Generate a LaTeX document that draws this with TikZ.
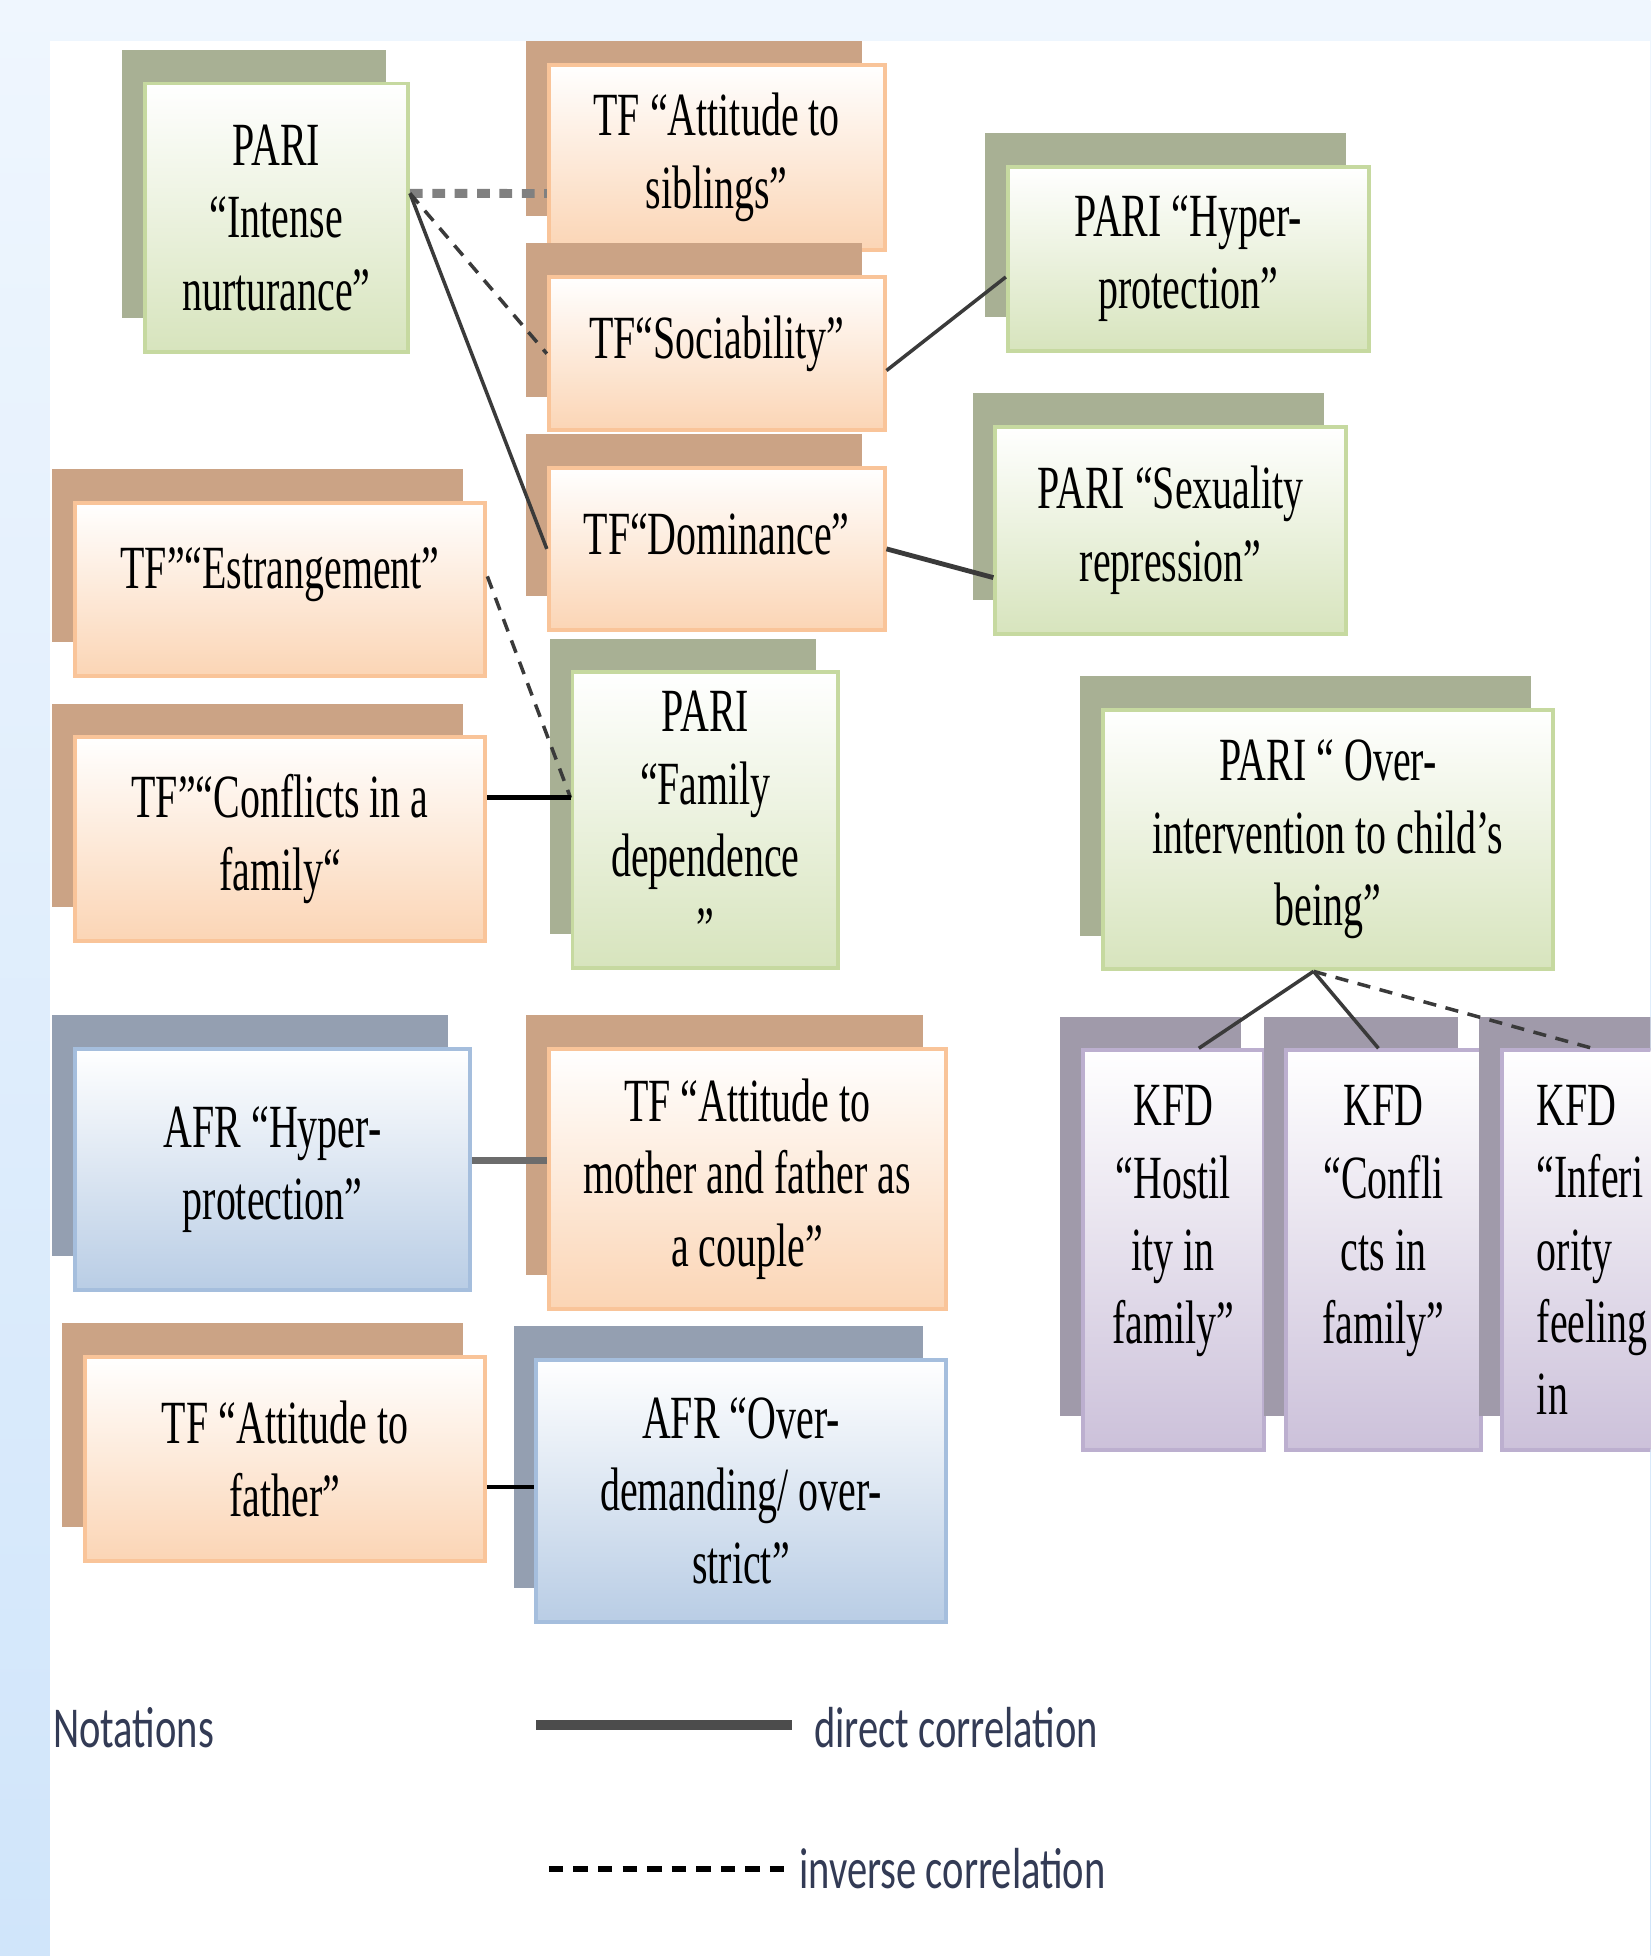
\documentclass[tikz,border=0pt]{standalone}
\usepackage{fontspec}
\setmainfont{Liberation Serif}[FakeStretch=0.65]
\newfontfamily\notefont{Carlito}[FakeStretch=0.7]
\usetikzlibrary{shadows}

\definecolor{parifill}{HTML}{D7E4BD}
\definecolor{pariline}{HTML}{C6D9A0}
\definecolor{parishade}{HTML}{A8B094}
\definecolor{tffill}{HTML}{FBD5B5}
\definecolor{tfline}{HTML}{F9C499}
\definecolor{tfshade}{HTML}{CBA385}
\definecolor{afrfill}{HTML}{B9CDE5}
\definecolor{afrline}{HTML}{A5BEDD}
\definecolor{afrshade}{HTML}{949FB1}
\definecolor{kfdfill}{HTML}{CCC1DA}
\definecolor{kfdline}{HTML}{BCAFCF}
\definecolor{kfdshade}{HTML}{A09AAA}
\definecolor{slidetop}{HTML}{EFF6FE}
\definecolor{slideblue}{HTML}{D0E5FA}
\definecolor{linkgray}{HTML}{3A3A3A}
\definecolor{notegray}{HTML}{333B55}

\begin{document}
\begin{tikzpicture}[x=0.01cm, y=-0.01cm]
			\tikzset{block/.style={draw, rectangle, align=center, line width=0.9pt, inner sep=2pt, font=\fontsize{14}{16.5}\selectfont},
        pariblock/.style={block, draw=pariline, top color=white, bottom color=parifill,
          drop shadow={shadow xshift=-0.18cm, shadow yshift=0.27cm, fill=parishade, opacity=1}},
        tfblock/.style={block, draw=tfline, top color=white, bottom color=tffill,
          drop shadow={shadow xshift=-0.18cm, shadow yshift=0.27cm, fill=tfshade, opacity=1}},
        afrblock/.style={block, draw=afrline, top color=white, bottom color=afrfill,
          drop shadow={shadow xshift=-0.18cm, shadow yshift=0.27cm, fill=afrshade, opacity=1}},
        kfdblock/.style={block, draw=kfdline, top color=white, bottom color=kfdfill,
          minimum height=3.2cm,
          drop shadow={shadow xshift=-0.18cm, shadow yshift=0.27cm, fill=kfdshade, opacity=1}},
        link/.style={draw=linkgray, line width=0.8pt},
        invlink/.style={draw=linkgray, line width=0.8pt, dash pattern=on 3pt off 2.2pt},
        notelabel/.style={inner sep=0pt, text=notegray, font=\notefont\fontsize{13.2}{15}\selectfont},
        }

			% slide background
			\fill[top color=slidetop, bottom color=slideblue] (0,0) rectangle (1323,1568);
			\fill[white] (40,33) rectangle (1323,1568);
			\useasboundingbox (0,0) rectangle (1323,1568);

			\begin{scope}
			\clip (40,33) rectangle (1323,1568);
			\node [pariblock, minimum width=2.11cm, minimum height=2.15cm] (nurture) at (221.5,174.5) {PARI\\“Intense\\nurturance”};
			\node [tfblock, minimum width=2.69cm, minimum height=1.48cm] (siblings) at (574.5,126) {TF “Attitude to\\siblings”};
			\node [tfblock, minimum width=2.69cm, minimum height=1.23cm, text depth=0.26cm] (sociab) at (574.5,283.5) {TF“Sociability”};
			\node [pariblock, minimum width=2.89cm, minimum height=1.47cm] (hyperprot) at (952.5,207.5) {PARI “Hyper-\\protection”};
			\node [tfblock, minimum width=2.69cm, minimum height=1.30cm, text depth=0.24cm] (dominance) at (574.5,440) {TF“Dominance”};
			\node [pariblock, minimum width=2.81cm, minimum height=1.66cm] (sexrep) at (938.5,425) {PARI “Sexuality\\repression”};
			\node [tfblock, minimum width=3.29cm, minimum height=1.39cm, text depth=0.34cm] (estrange) at (224.5,472.5) {TF"“Estrangement”};
			\node [pariblock, minimum width=2.13cm, minimum height=2.37cm] (famdep) at (565.5,657.5) {PARI\\“Family\\dependence\\”};
			\node [tfblock, minimum width=3.29cm, minimum height=1.63cm] (conflicts) at (224.5,672.5) {TF"“Conflicts in a\\family“};
			\node [pariblock, minimum width=3.61cm, minimum height=2.08cm] (overint) at (1064.5,673) {PARI “ Over-\\intervention to child’s\\being”};

			\node [afrblock, minimum width=3.17cm, minimum height=1.93cm] (afrhyper) at (218.5,937.5) {AFR “Hyper-\\protection”};
			\node [tfblock, minimum width=3.18cm, minimum height=2.08cm] (couple) at (599,945) {TF “Attitude to\\mother and father as\\a couple”};
			\node [kfdblock, minimum width=1.45cm, text depth=0.57cm] (hostil) at (940.5,1002) {KFD\\“Hostil\\ity in\\family”};
			\node [kfdblock, minimum width=1.56cm, text depth=0.57cm] (conflkfd) at (1109,1002) {KFD\\“Confli\\cts in\\family”};
			\node [kfdblock, minimum width=1.45cm, align=left] (inferior) at (1276.5,1002) {KFD\\“Inferi\\ority\\feeling\\in};
			\node [tfblock, minimum width=3.21cm, minimum height=1.63cm] (father) at (228.5,1169.5) {TF “Attitude to\\father”};
			\node [afrblock, minimum width=3.28cm, minimum height=2.10cm] (strict) at (594,1195) {AFR “Over-\\demanding/ over-\\strict”};

			\coordinate (nurtureout) at ([yshift=0.195cm]nurture.east);
			\path[draw, draw=gray, line width=2pt, dash pattern=on 2.9pt off 2.2pt] (nurtureout) -- ([yshift=-0.29cm]siblings.west);
			\path[draw, invlink] (nurtureout) -- (sociab.west);
			\path[draw, link] (nurtureout) -- (dominance.west);
			\path[draw, link] ([yshift=-0.135cm]sociab.east) -- ([yshift=-0.145cm]hyperprot.west);
			\path[draw, link, line width=1.1pt] (dominance.east) -- ([yshift=-0.38cm]sexrep.west);

			\coordinate (depin) at ([yshift=0.18cm]famdep.west);
			\path[draw, invlink] ([yshift=0.105cm]estrange.east) -- (depin);
			\path[draw, link, draw=black, line width=1.1pt] (depin -| conflicts.east) -- (depin);

			\coordinate (overout) at ([xshift=-0.115cm]overint.south);
			\path[draw, link] (overout) -- ([xshift=0.205cm]hostil.north);
			\path[draw, link] (overout) -- ([xshift=-0.04cm]conflkfd.north);
			\path[draw, invlink] (overout) -- (inferior.north);

			\coordinate (hyperout) at ([yshift=0.07cm]afrhyper.east);
			\path[draw, draw=gray!85!black, line width=1.6pt] (hyperout) -- (hyperout -| couple.west);
			\coordinate (fatherout) at ([yshift=-0.225cm]father.east);
			\path[draw, link, draw=black] (fatherout) -- (fatherout -| strict.west);
			\end{scope}

			% notations
			\node [notelabel, anchor=west] (notations) at (42,1385) {Notations};
			\node [notelabel, anchor=west] (direct) at (652,1385) {direct correlation};
			\node [notelabel, anchor=west] (inverse) at (640,1498) {inverse correlation};
			\coordinate (directkey) at (430,1383);
			\coordinate (inversekey) at (440,1498);
			\path[draw, draw=gray!60!black, line width=2.2pt, shorten >=0.17cm] (directkey) -- (directkey -| direct.west);
			\path[draw, draw=black, line width=1.3pt, dash pattern=on 3.3pt off 2.3pt, shorten >=0.05cm] (inversekey) -- (inversekey -| inverse.west);

		\end{tikzpicture}
\end{document}
